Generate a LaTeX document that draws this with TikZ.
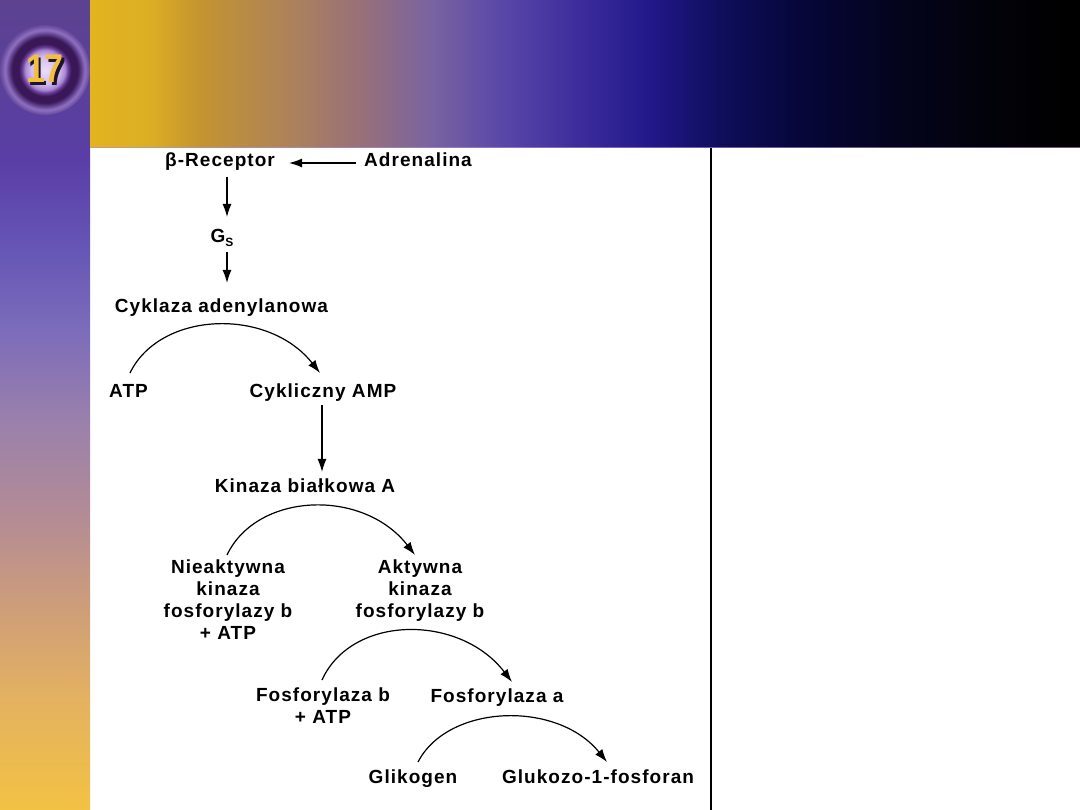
\documentclass[tikz,border=0pt]{standalone}
\usepackage{fontspec}
\setmainfont{Liberation Sans}
\newfontfamily\lblfont{Liberation Sans}[LetterSpace=5.5]
\newfontfamily\badgefont{Liberation Sans}
\usetikzlibrary{arrows.meta}

% banner colours
\definecolor{ba0}{HTML}{E2B420}
\definecolor{ba1}{HTML}{DCAE24}
\definecolor{ba2}{HTML}{C49430}
\definecolor{ba3}{HTML}{AA8060}
\definecolor{ba4}{HTML}{987078}
\definecolor{ba5}{HTML}{7A64A0}
\definecolor{ba6}{HTML}{5A48A8}
\definecolor{ba7}{HTML}{3C2C9C}
\definecolor{ba8}{HTML}{22188A}
\definecolor{ba9}{HTML}{0E0E5C}
\definecolor{ba10}{HTML}{06063A}
\definecolor{ba11}{HTML}{04041C}
\definecolor{ba12}{HTML}{020208}
\definecolor{ba13}{HTML}{000000}
% strip colours
\definecolor{st0}{HTML}{F2C244}
\definecolor{st1}{HTML}{E4B260}
\definecolor{st2}{HTML}{CC9C7C}
\definecolor{st3}{HTML}{B48C94}
\definecolor{st4}{HTML}{9A80AC}
\definecolor{st5}{HTML}{7C6CBA}
\definecolor{st6}{HTML}{6656B6}
\definecolor{st7}{HTML}{5A3EA6}
\definecolor{st8}{HTML}{5C4290}
% badge colours
\definecolor{bg0}{HTML}{ECDEFA}
\definecolor{bg1}{HTML}{D4BAEE}
\definecolor{bg2}{HTML}{A888D4}
\definecolor{bg3}{HTML}{6A3C98}
\definecolor{bg4}{HTML}{3A1858}
\definecolor{bg5}{HTML}{3A1858}
\definecolor{bg6}{HTML}{6A4A9A}
\definecolor{bg7}{HTML}{9070C0}
\definecolor{bg8}{HTML}{64489A}
\definecolor{numyellow}{HTML}{F2C040}
\definecolor{numshadow}{HTML}{1E1428}
\definecolor{bannerline}{HTML}{B090D0}

\pgfdeclarehorizontalshading{banner}{100bp}{%
color(0bp)=(ba0); color(25bp)=(ba0); color(28.03bp)=(ba1); color(30.56bp)=(ba2);
color(35.61bp)=(ba3); color(38.64bp)=(ba4); color(42.17bp)=(ba5); color(45.71bp)=(ba6);
color(49.75bp)=(ba7); color(53.28bp)=(ba8); color(56.82bp)=(ba9); color(60.86bp)=(ba10);
color(65.91bp)=(ba11); color(70.96bp)=(ba12); color(75bp)=(ba13); color(100bp)=(ba13)}

\pgfdeclareverticalshading{strip}{100bp}{%
color(0bp)=(st0); color(25bp)=(st0); color(31.79bp)=(st1); color(37.96bp)=(st2);
color(42.9bp)=(st3); color(49.07bp)=(st4); color(54.63bp)=(st5); color(59.57bp)=(st6);
color(65.12bp)=(st7); color(75bp)=(st8); color(100bp)=(st8)}

\pgfdeclareradialshading{badge}{\pgfpoint{0bp}{0bp}}{%
color(0bp)=(bg0); color(7.8bp)=(bg1); color(11.1bp)=(bg2); color(12.8bp)=(bg3);
color(14.6bp)=(bg4); color(18.3bp)=(bg5); color(20.6bp)=(bg6); color(22.2bp)=(bg7);
color(25bp)=(bg8); color(50bp)=(bg8)}

\tikzset{
  lbl/.style={font={\lblfont\bfseries\fontsize{19pt}{21.7pt}\selectfont}, inner sep=0pt, anchor=base},
  lblm/.style={font={\lblfont\bfseries\fontsize{19pt}{21.7pt}\selectfont}, inner sep=0pt, anchor=north, align=center},
  arr/.style={line width=1.3pt, -{Latex[length=13pt,width=9pt]}},
  carr/.style={line width=1.2pt, -{Latex[length=13pt,width=9pt]}},
}

\begin{document}
\begin{tikzpicture}[x=1pt,y=-1pt]
\useasboundingbox (0,0) rectangle (1080,810);
\fill[white] (0,0) rectangle (1080,810);

% decorative background
\shade[shading=strip] (0,0) rectangle (90,810);
\shade[shading=banner] (90,0) rectangle (1080,148);
\draw[bannerline, opacity=0.6, line width=1.5pt] (90,147.5) -- (1080,147.5);
\shade[shading=badge] (45,70) circle (45pt);
\node[font={\badgefont\bfseries\fontsize{40pt}{40pt}\selectfont}, text=numyellow, inner sep=0pt] (num) at (45,70)
  {\scalebox{0.85}[1]{\rlap{\kern3pt\raisebox{-3pt}{\color{numshadow}17}}17}};

% divider
\draw[line width=1.3pt] (711,148) -- (711,810);

% nodes
\node[lbl] (rec)  at (220,167) {β-Receptor};
\node[lbl] (adr)  at (418,167) {Adrenalina};
\node[lbl] (gs)   at (222,243) {G\raisebox{-3.5pt}{\fontsize{12pt}{12pt}\selectfont S}};
\node[lbl] (cyk)  at (221.5,313) {Cyklaza adenylanowa};
\node[lbl] (atp)  at (128.5,398) {ATP};
\node[lbl] (camp) at (323,398) {Cykliczny AMP};
\node[lbl] (kin)  at (305,493) {Kinaza białkowa A};
\node[lblm] (nieakt) at (228,560) {Nieaktywna\\kinaza\\fosforylazy b\\+ ATP};
\node[lblm] (akt)    at (420,560) {Aktywna\\kinaza\\fosforylazy b};
\node[lblm] (fosb)   at (323,688) {Fosforylaza b\\+ ATP};
\node[lbl] (fosa) at (497,702) {Fosforylaza a};
\node[lbl] (gli)  at (413,783) {Glikogen};
\node[lbl] (glu)  at (598,783) {Glukozo-1-fosforan};

% straight connectors
\draw[arr] ([xshift=-8pt,yshift=4pt]adr.base west) -- ([xshift=14pt,yshift=4pt]rec.base east);
\draw[arr] ([xshift=7pt,yshift=-10pt]rec.base) -- ([xshift=5pt,yshift=26pt]gs.base);
\draw[arr] ([xshift=5pt,yshift=-9pt]gs.base) -- ([xshift=5.5pt,yshift=30pt]cyk.base);
\draw[arr] ([xshift=-1pt,yshift=-7pt]camp.base) -- ([xshift=17pt,yshift=21pt]kin.base);

% curved connectors
\draw[carr] ([xshift=1.5pt,yshift=25pt]atp.base) .. controls +(30pt,62pt) and +(-52pt,66pt) .. ([xshift=-3pt,yshift=25pt]camp.base);
\draw[carr] ([xshift=-1pt,yshift=5pt]nieakt.north) .. controls +(30pt,63pt) and +(-52pt,67pt) .. ([xshift=-5pt,yshift=5pt]akt.north);
\draw[carr] ([xshift=-1pt,yshift=8pt]fosb.north) .. controls +(30pt,66pt) and +(-52pt,68pt) .. ([xshift=15pt,yshift=20pt]fosa.base);
\draw[carr] ([xshift=5pt,yshift=21pt]gli.base) .. controls +(30pt,58pt) and +(-50pt,62pt) .. ([xshift=9pt,yshift=21pt]glu.base);
\end{tikzpicture}
\end{document}
